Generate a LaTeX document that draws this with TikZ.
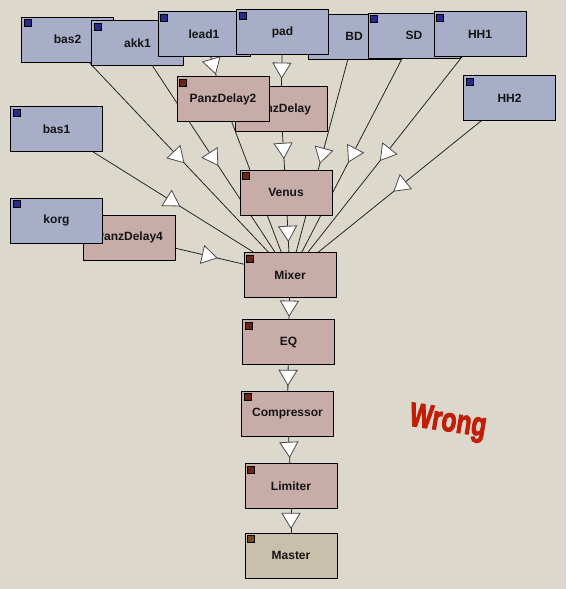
\documentclass[tikz,border=0pt]{standalone}
\usepackage{fontspec}
\setmainfont{Liberation Sans}
\newfontfamily\wrongfont[FakeBold=3,FakeSlant=0.12]{Liberation Sans Bold}
\usetikzlibrary{decorations.markings}
\definecolor{bgc}{HTML}{DCD8CC}
\definecolor{srcfill}{HTML}{A8AEC8}
\definecolor{fxfill}{HTML}{C8ACA8}
\definecolor{mstfill}{HTML}{C8C0AA}
\definecolor{srcmark}{HTML}{2A2A8C}
\definecolor{fxmark}{HTML}{6A2418}
\definecolor{mstmark}{HTML}{7A4A1C}
\definecolor{wrongred}{HTML}{C01E08}
\pgfdeclarelayer{bg}
\pgfsetlayers{bg,main}
\tikzset{
  box/.style={draw=black, line width=1pt, minimum width=92pt, minimum height=45pt,
    inner sep=0pt, text=black!92, font=\bfseries\fontsize{12}{14}\selectfont},
  src/.style={box, fill=srcfill, path picture={\filldraw[fill=srcmark, draw=black, line width=0.6pt]
    ([xshift=2.5pt,yshift=-2.5pt]path picture bounding box.north west) rectangle ++(7pt,-7pt);}},
  fx/.style={box, fill=fxfill, path picture={\filldraw[fill=fxmark, draw=black, line width=0.6pt]
    ([xshift=2.5pt,yshift=-2.5pt]path picture bounding box.north west) rectangle ++(7pt,-7pt);}},
  mst/.style={box, fill=mstfill, path picture={\filldraw[fill=mstmark, draw=black, line width=0.6pt]
    ([xshift=2.5pt,yshift=-2.5pt]path picture bounding box.north west) rectangle ++(7pt,-7pt);}},
  conn/.style={draw=black!85, line width=0.8pt, postaction={decorate},
    decoration={markings, mark=at position 0.5 with {\filldraw[fill=white, draw=black!70, line width=0.8pt]
      (7.5pt,0pt) -- (-7.5pt,9pt) -- (-7.5pt,-9pt) -- cycle;}}},
}
\begin{document}
\begin{tikzpicture}[x=1pt,y=-1pt]
\useasboundingbox (0,0) rectangle (566,589);
% nodes in stacking order
\node[src] (bas2) at (67.5,39.5) {bas2};
\node[src] (akk1) at (137.5,43) {akk1};
\node[src] (lead1) at (204,34) {lead1};
\node[src] (BD) at (354,36.5) {BD};
\node[src] (SD) at (414,35.5) {SD};
\node[src] (HH1) at (480,34) {HH1};
\node[src] (pad) at (282.5,32) {pad};
\node[src] (HH2) at (509.5,98) {HH2};
\node[src] (bas1) at (56.5,129) {bas1};
\node[fx] (pd4) at (129.5,237.5) {PanzDelay4};
\node[src] (korg) at (56.5,220.5) {korg};
\node[fx] (pd) at (281,109) {PanzDelay};
\node[fx] (pd2) at (223,99) {PanzDelay2};
\node[fx] (venus) at (286,192.5) {Venus};
\node[fx] (mixer) at (290,275) {Mixer};
\node[fx] (eq) at (288.5,342) {EQ};
\node[fx] (comp) at (287.5,413.5) {Compressor};
\node[fx] (lim) at (291,486) {Limiter};
\node[mst] (master) at (291,555.5) {Master};
\node[text=wrongred, font=\wrongfont\fontsize{34}{36}\selectfont, xscale=0.72, rotate=-6] (wrong) at (447,423) {Wrong};
\begin{pgfonlayer}{bg}
\fill[bgc] (0,0) rectangle (566,589);
\draw[conn] (bas2.center) -- (mixer.center);
\draw[conn] (akk1.center) -- (mixer.center);
\draw[conn] (bas1.center) -- (mixer.center);
\draw[conn] (lead1.center) -- (pd2.center);
\draw[conn] (pad.center) -- (pd.center);
\draw[conn] (pd.center) -- (venus.center);
\draw[conn] (pd2.center) -- (mixer.center);
\draw[conn] (BD.center) -- (mixer.center);
\draw[conn] (SD.center) -- (mixer.center);
\draw[conn] (HH1.center) -- (mixer.center);
\draw[conn] (HH2.center) -- (mixer.center);
\draw[conn] (venus.center) -- (mixer.center);
\draw[conn] (pd4.center) -- (mixer.center);
\draw[conn] (mixer.center) -- (eq.center);
\draw[conn] (eq.center) -- (comp.center);
\draw[conn] (comp.center) -- (lim.center);
\draw[conn] (lim.center) -- (master.center);
\end{pgfonlayer}
\end{tikzpicture}
\end{document}
